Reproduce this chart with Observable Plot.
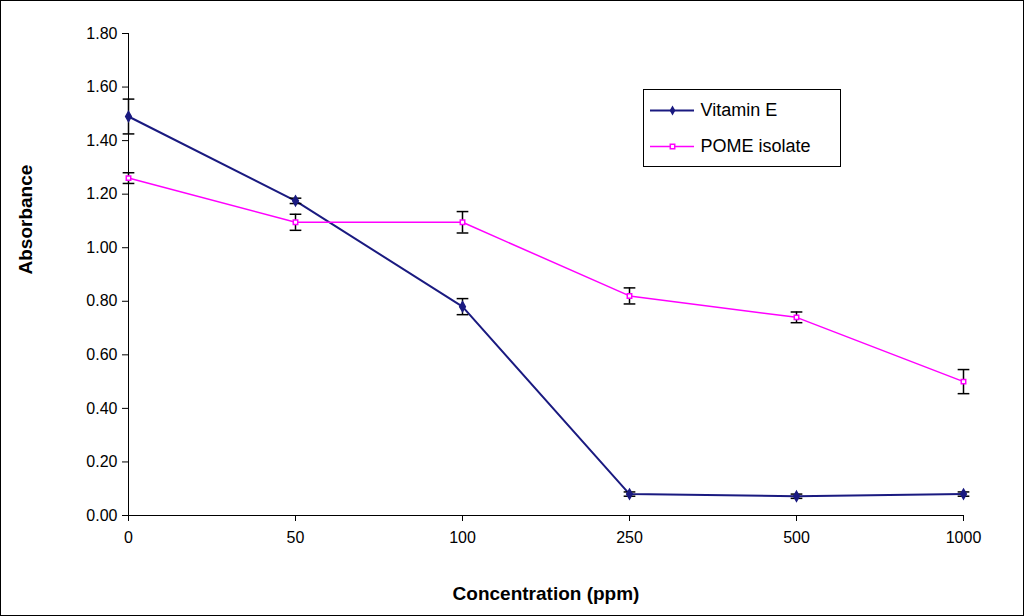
<!DOCTYPE html>
<html><head>
<script src="https://cdn.jsdelivr.net/npm/d3@7"></script>
<script src="https://cdn.jsdelivr.net/npm/@observablehq/plot@0.6"></script>
<style>
body{margin:0;background:#fff;font-family:"Liberation Sans",Arial,sans-serif;}
#wrap{position:relative;width:1022px;height:614px;border:1px solid #000;}
#legend{position:absolute;left:642px;top:88px;width:196px;height:76px;border:1px solid #000;background:#fff;font-size:17px;}
#chart svg g[aria-label^="x-axis tick label"], #chart svg g[aria-label^="y-axis tick label"]{font-size:16px;}
</style></head><body>
<div id="wrap"><div id="chart"></div>
<div id="legend"></div></div>
<script>
const categories = ["0","50","100","250","500","1000"];
const vitE = [1.49, 1.175, 0.78, 0.08, 0.072, 0.08];
const vitEErr = [0.065, 0.01, 0.03, 0.008, 0.008, 0.008];
const pome = [1.26, 1.095, 1.095, 0.82, 0.74, 0.50];
const pomeErr = [0.02, 0.03, 0.04, 0.03, 0.02, 0.045];
const yTicks = [0,0.2,0.4,0.6,0.8,1.0,1.2,1.4,1.6,1.8];

const rows = [];
categories.forEach((c,i)=>{
  rows.push({i, s:"Vitamin E", v:vitE[i], e:vitEErr[i]});
  rows.push({i, s:"POME isolate", v:pome[i], e:pomeErr[i]});
});
const ve = rows.filter(d=>d.s==="Vitamin E"), po = rows.filter(d=>d.s==="POME isolate");
const navy="#1a1a80", mag="#ff00ff";
const cap=0.035;
const errMarks = data => [
  Plot.ruleX(data,{x:"i",y1:d=>d.v-d.e,y2:d=>d.v+d.e,stroke:"#000",strokeWidth:1.5}),
  Plot.link(data,{x1:d=>d.i-cap,x2:d=>d.i+cap,y1:d=>d.v+d.e,y2:d=>d.v+d.e,stroke:"#000",strokeWidth:1.5}),
  Plot.link(data,{x1:d=>d.i-cap,x2:d=>d.i+cap,y1:d=>d.v-d.e,y2:d=>d.v-d.e,stroke:"#000",strokeWidth:1.5})
];
const chart = Plot.plot({
  width:1022,height:614,marginLeft:127,marginRight:60,marginTop:32,marginBottom:100,
  style:{fontFamily:"Liberation Sans, Arial, sans-serif",fontSize:"16px",color:"#000"},
  x:{domain:[0,5],label:null},
  y:{domain:[0,1.8],label:null},
  marks:[
    Plot.ruleY([0],{stroke:"#000"}),
    Plot.ruleX([0],{stroke:"#000"}),
    Plot.axisX({ticks:d3.range(6),tickFormat:i=>categories[i],tickSize:6,tickPadding:10,label:null}),
    Plot.axisY({ticks:yTicks,tickFormat:d=>d.toFixed(2),tickSize:6,tickPadding:5,label:null}),
    Plot.line(ve,{x:"i",y:"v",stroke:navy,strokeWidth:2}),
    Plot.line(po,{x:"i",y:"v",stroke:mag,strokeWidth:1.5}),
    ...errMarks(ve),...errMarks(po),
    Plot.dot(ve,{x:"i",y:"v",symbol:"diamond",r:3,fill:navy,stroke:navy}),
    Plot.dot(po,{x:"i",y:"v",symbol:"square",r:2.5,fill:"#fff",stroke:mag,strokeWidth:1.5}),
    Plot.text(["Concentration (ppm)"],{frameAnchor:"bottom",dy:84,text:d=>d,fontWeight:"bold",fontSize:19}),
    Plot.text(["Absorbance"],{frameAnchor:"left",dx:-103,rotate:-90,text:d=>d,fontWeight:"bold",fontSize:19})
  ]
});
document.getElementById("chart").appendChild(chart);
const lg = Plot.plot({width:196,height:76,margin:0,x:{domain:[0,196],axis:null},y:{domain:[0,76],axis:null},
  style:{fontFamily:"Liberation Sans, Arial, sans-serif"},
  marks:[
    Plot.ruleY([{y:56}],{x1:6,x2:50,y:"y",stroke:navy,strokeWidth:2}),
    Plot.dot([{x:28,y:56}],{x:"x",y:"y",symbol:"diamond",r:3,fill:navy}),
    Plot.text(["Vitamin E"],{x:56,y:56,text:d=>d,textAnchor:"start",fontSize:18}),
    Plot.ruleY([{y:20}],{x1:6,x2:50,y:"y",stroke:mag,strokeWidth:1.5}),
    Plot.dot([{x:28,y:20}],{x:"x",y:"y",symbol:"square",r:2.5,fill:"#fff",stroke:mag,strokeWidth:1.5}),
    Plot.text(["POME isolate"],{x:56,y:20,text:d=>d,textAnchor:"start",fontSize:18})
  ]});
document.getElementById("legend").appendChild(lg);
</script></body></html>
